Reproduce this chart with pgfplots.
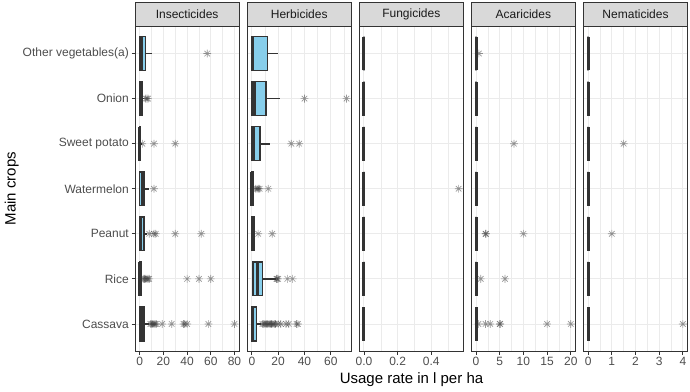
\documentclass[border=0pt]{standalone}
\usepackage{pgfplots}
\pgfplotsset{compat=1.18}
\usepgfplotslibrary{statistics}
\usepackage{fontspec}
\setmainfont{Liberation Sans}
\definecolor{gten}{HTML}{1A1A1A}
\definecolor{gtwenty}{HTML}{333333}
\definecolor{gthirty}{HTML}{4D4D4D}
\definecolor{geightyfive}{HTML}{D9D9D9}
\definecolor{gninetytwo}{HTML}{EBEBEB}
\definecolor{skyb}{HTML}{87CEEB}
\pgfdeclareplotmark{ast8}{%
  \pgfpathmoveto{\pgfpoint{-\pgfplotmarksize}{0pt}}\pgfpathlineto{\pgfpoint{\pgfplotmarksize}{0pt}}%
  \pgfpathmoveto{\pgfpoint{0pt}{-\pgfplotmarksize}}\pgfpathlineto{\pgfpoint{0pt}{\pgfplotmarksize}}%
  \pgfpathmoveto{\pgfpoint{-0.7071\pgfplotmarksize}{-0.7071\pgfplotmarksize}}\pgfpathlineto{\pgfpoint{0.7071\pgfplotmarksize}{0.7071\pgfplotmarksize}}%
  \pgfpathmoveto{\pgfpoint{-0.7071\pgfplotmarksize}{0.7071\pgfplotmarksize}}\pgfpathlineto{\pgfpoint{0.7071\pgfplotmarksize}{-0.7071\pgfplotmarksize}}%
  \pgfusepathqstroke}
\newcommand{\bx}[6]{%
  \addplot[gtwenty, line width=1.7pt, forget plot] coordinates {(#5,#1) (#6,#1)};
  \addplot[draw=gtwenty, line width=1.4pt, boxplot prepared={draw position=#1, lower whisker=#2, lower quartile=#3, median=#4, upper quartile=#5, upper whisker=#6}] coordinates {};}
\pgfplotsset{
  every axis title/.style={at={(0.5,1)}, anchor=south, fill=geightyfive, draw=gtwenty, line width=0.8pt,
    minimum width=104.2pt, minimum height=23.5pt, inner sep=0pt, font=\fontsize{12}{14}\selectfont, text=gten},
  facet/.style={
    scale only axis, width=104.2pt, height=324.5pt, anchor=south west,
    ymin=0.4, ymax=7.6, ytick={1,2,3,4,5,6,7},
    axis line style={gtwenty, line width=0.8pt},
    tick align=outside, xtick pos=bottom, ytick pos=left,
    major tick length=3.5pt, minor tick length=0pt,
    tick style={gtwenty, line width=0.8pt},
    xmajorgrids, xminorgrids, ymajorgrids,
    major grid style={gninetytwo, line width=0.9pt},
    minor grid style={gninetytwo, line width=0.5pt},
    ticklabel style={font=\fontsize{12}{14}\selectfont, text=gthirty},
    xticklabel style={inner sep=2.5pt},
    yticklabel style={inner sep=2.5pt},
    boxplot/draw direction=x,
    boxplot/box extend=0.75,
    boxplot/whisker extend=0,
    boxplot/every box/.style={draw=gtwenty, fill=skyb, line width=1.4pt},
    boxplot/every whisker/.style={draw=gtwenty, line width=1.7pt},
    boxplot/every median/.style={draw=gtwenty, line width=3pt},
  },
  noy/.style={yticklabels={}, ytick style={draw=none}},
  out/.style={only marks, mark=ast8, mark size=3.9pt, color=gtwenty, opacity=0.5, line width=0.65pt},
}
\begin{document}
\begin{tikzpicture}
\useasboundingbox (0,0) rectangle (690pt,391pt);
% Insecticides
\begin{axis}[facet, at={(135pt,40pt)}, title={Insecticides},
  xmin=-4, xmax=84, xtick={0,20,40,60,80}, xticklabels={0,20,40,60,80}, minor xtick={10,30,50,70},
  yticklabels={Cassava,Rice,Peanut,Watermelon,Sweet potato,Onion,Other vegetables(a)}]
\bx{7}{0}{0}{1.7}{5}{10}
\bx{6}{0}{0}{0.5}{1.8}{3.5}
\bx{5}{0}{0}{0}{0.8}{1}
\bx{4}{0}{0}{2}{4.2}{8}
\bx{3}{0}{0}{1}{3.5}{6}
\bx{2}{0}{0}{0}{1}{2}
\bx{1}{0}{0}{1.5}{3.5}{8}
\addplot[out] coordinates {(57,7) (5,6) (6,6) (7,6) (2.2,5) (12,5) (30,5) (12,4)
 (8,3) (12,3) (13.5,3) (30,3) (52,3)
 (3,2) (4,2) (5,2) (6,2) (7,2) (8,2) (40,2) (50,2) (60,2)
 (9,1) (10,1) (11,1) (12,1) (13,1) (14,1) (19,1) (27,1) (37,1) (38,1) (40,1) (58,1) (80,1)};
\end{axis}
% Herbicides
\begin{axis}[facet, noy, at={(247.1pt,40pt)}, title={Herbicides},
  xmin=-3.6, xmax=75.6, xtick={0,20,40,60}, xticklabels={0,20,40,60}, minor xtick={10,30,50,70}]
\bx{7}{0}{0}{0.5}{12}{20}
\bx{6}{0}{0}{1.8}{10.8}{21.6}
\bx{5}{0}{0}{1.5}{6.3}{14}
\bx{4}{0}{0}{0}{1}{1.5}
\bx{3}{0}{0}{0.5}{1.8}{2.5}
\bx{2}{0}{0.8}{4.5}{8.3}{18}
\bx{1}{0}{0}{0.7}{3.5}{7}
\addplot[out] coordinates {(40,6) (72,6) (30,5) (36,5) (3,4) (4,4) (5,4) (6,4) (12.5,4)
 (4.8,3) (15.5,3)
 (18.7,2) (19.3,2) (20,2) (27,2) (31,2)
 (8,1) (9,1) (10,1) (11,1) (12,1) (13,1) (14,1) (15,1) (16,1) (17,1) (18,1) (20,1) (22,1) (26,1) (28,1) (34,1) (35,1)};
\end{axis}
% Fungicides
\begin{axis}[facet, noy, at={(359.2pt,40pt)}, title={Fungicides},
  xmin=-0.02815, xmax=0.59115, xtick={0,0.2,0.4}, xticklabels={0.0,0.2,0.4}, minor xtick={0.1,0.3,0.5}]
\bx{7}{0}{0}{0}{0}{0}
\bx{6}{0}{0}{0}{0}{0}
\bx{5}{0}{0}{0}{0}{0}
\bx{4}{0}{0}{0}{0}{0}
\bx{3}{0}{0}{0}{0}{0}
\bx{2}{0}{0}{0}{0}{0}
\bx{1}{0}{0}{0}{0}{0}
\addplot[out] coordinates {(0.563,4)};
\end{axis}
% Acaricides
\begin{axis}[facet, noy, at={(471.3pt,40pt)}, title={Acaricides},
  xmin=-1, xmax=21, xtick={0,5,10,15,20}, xticklabels={0,5,10,15,20}, minor xtick={2.5,7.5,12.5,17.5}]
\bx{7}{0}{0}{0}{0}{0}
\bx{6}{0}{0}{0}{0}{0}
\bx{5}{0}{0}{0}{0}{0}
\bx{4}{0}{0}{0}{0}{0}
\bx{3}{0}{0}{0}{0}{0}
\bx{2}{0}{0}{0}{0}{0}
\bx{1}{0}{0}{0}{0}{0}
\addplot[out] coordinates {(0.6,7) (8,5) (2,3) (2.1,3) (10,3) (1,2) (6.1,2)
 (0.5,1) (2,1) (3,1) (5,1) (5.1,1) (15,1) (20,1)};
\end{axis}
% Nematicides
\begin{axis}[facet, noy, at={(583.4pt,40pt)}, title={Nematicides},
  xmin=-0.2, xmax=4.2, xtick={0,1,2,3,4}, xticklabels={0,1,2,3,4}, minor xtick={0.5,1.5,2.5,3.5}]
\bx{7}{0}{0}{0}{0}{0}
\bx{6}{0}{0}{0}{0}{0}
\bx{5}{0}{0}{0}{0}{0}
\bx{4}{0}{0}{0}{0}{0}
\bx{3}{0}{0}{0}{0}{0}
\bx{2}{0}{0}{0}{0}{0}
\bx{1}{0}{0}{0}{0}{0}
\addplot[out] coordinates {(1.5,5) (1,3) (4,1)};
\end{axis}
\node[anchor=base, font=\fontsize{15}{18}\selectfont, text=black] at (411.5pt,7.6pt) {Usage rate in l per ha};
\node[anchor=base, rotate=90, font=\fontsize{15}{18}\selectfont, text=black] at (15.7pt,202.3pt) {Main crops};
\end{tikzpicture}
\end{document}
